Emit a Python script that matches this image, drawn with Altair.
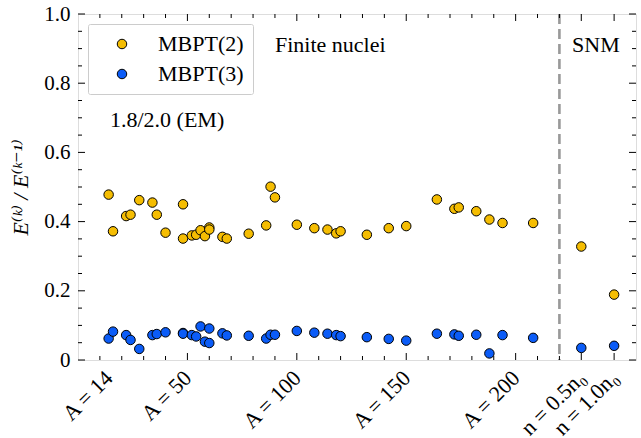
import altair as alt
import pandas as pd

# ---------------- data ----------------
A_nuclei = [14, 16, 22, 24, 28, 34, 36, 40, 48, 48, 52, 54, 56, 58, 60, 60, 66, 68, 78, 86,
            88, 90, 100, 108, 114, 118, 120, 132, 142, 150, 164, 172, 174, 182, 188, 194, 208]
mbpt2_nuclei = [0.478, 0.372, 0.416, 0.420, 0.462, 0.455, 0.420, 0.368, 0.450, 0.351, 0.360, 0.362,
                0.375, 0.358, 0.383, 0.377, 0.356, 0.351, 0.365, 0.389, 0.501, 0.470, 0.391, 0.381,
                0.377, 0.366, 0.372, 0.362, 0.381, 0.387, 0.464, 0.437, 0.441, 0.430, 0.406, 0.396,
                0.396]
mbpt3_nuclei = [0.062, 0.082, 0.072, 0.058, 0.032, 0.072, 0.075, 0.080, 0.078, 0.076, 0.072, 0.068,
                0.097, 0.053, 0.091, 0.049, 0.077, 0.071, 0.070, 0.062, 0.073, 0.073, 0.084, 0.079,
                0.076, 0.072, 0.069, 0.066, 0.061, 0.056, 0.076, 0.074, 0.070, 0.073, 0.019, 0.072,
                0.064]
snm_pos = [230, 245]
mbpt2_snm = [0.328, 0.189]
mbpt3_snm = [0.035, 0.041]

series_names = ["MBPT(2)", "MBPT(3)"]
series_colors = ["#f5bd02", "#0b5cf7"]

x_tick_values = [14, 50, 100, 150, 200, 230, 245]
x_tick_labels = ["A = 14", "A = 50", "A = 100", "A = 150", "A = 200", "n = 0.5n\u2080", "n = 1.0n\u2080"]
x_major_marks = [50, 100, 150, 200, 230, 245]
x_minor_marks = [10, 20, 30, 40, 60, 70, 80, 90, 110, 120, 130, 140, 160, 170, 180, 190, 210, 220]
y_major = [0, 0.2, 0.4, 0.6, 0.8, 1.0]
y_minor = [0.05, 0.1, 0.15, 0.25, 0.3, 0.35, 0.45, 0.5, 0.55, 0.65, 0.7, 0.75, 0.85, 0.9, 0.95]
divider_pos = [220]

annotations = ["Finite nuclei", "SNM", "1.8/2.0 (EM)"]
ann_x = [90, 236.7, 14.6]
ann_y = [0.91, 0.91, 0.694]
ann_align = ["left", "center", "left"]

# ---------------- layout ----------------
W, H = 558, 346
SERIF = "'Liberation Serif', 'Times New Roman', 'DejaVu Serif', serif"

rows = []
for a, v in zip(A_nuclei + snm_pos, mbpt2_nuclei + mbpt2_snm):
    rows.append({"x": a, "y": v, "series": series_names[0]})
for a, v in zip(A_nuclei + snm_pos, mbpt3_nuclei + mbpt3_snm):
    rows.append({"x": a, "y": v, "series": series_names[1]})
df = pd.DataFrame(rows)

label_expr = " : ".join(
    f"datum.value == {v} ? '{l}'" for v, l in zip(x_tick_values, x_tick_labels)
) + " : ''"

x_scale = alt.Scale(domain=[0, 255], nice=False, zero=False)
y_scale = alt.Scale(domain=[0, 1], nice=False)

x_axis = alt.Axis(values=x_tick_values, labelExpr=label_expr, labelAngle=315, labelAlign="right",
                  labelBaseline="middle", labelFont=SERIF, labelFontSize=22, labelColor="black",
                  ticks=False, domain=False, grid=False, title=None, labelPadding=14,
                  labelOverlap=False, labelFlush=False)
y_axis = alt.Axis(values=y_major, labelExpr="datum.value == 0 ? '0' : format(datum.value, '.1f')",
                  labelFont=SERIF, labelFontSize=21, labelColor="black", ticks=False, domain=False,
                  grid=False, title="E\u207d\u1d4f\u207e / E\u207d\u1d4f\u207b\u00b9\u207e",
                  titleFont=SERIF, titleFontSize=22, titleFontWeight="normal",
                  titleFontStyle="italic", titleColor="black",
                  labelPadding=8, titlePadding=11)

points = alt.Chart(df).mark_circle(size=90, opacity=1, stroke="black", strokeWidth=1).encode(
    x=alt.X("x:Q", scale=x_scale, axis=x_axis),
    y=alt.Y("y:Q", scale=y_scale, axis=y_axis),
    color=alt.Color("series:N", scale=alt.Scale(domain=series_names, range=series_colors),
                    legend=alt.Legend(title=None, orient="none", legendX=10, legendY=10,
                                      labelFont=SERIF, labelFontSize=22, labelColor="black",
                                      symbolType="circle", symbolSize=90,
                                      symbolStrokeColor="black", symbolStrokeWidth=1,
                                      symbolOffset=14, labelOffset=25, rowPadding=8,
                                      padding=9, fillColor="white", strokeColor="#cccccc",
                                      cornerRadius=2)),
)

divider = alt.Chart(pd.DataFrame({"x": divider_pos})).mark_rule(
    color="#999999", strokeWidth=2.6, strokeDash=[10, 5]).encode(x="x:Q")

xt_major = pd.DataFrame({"x": x_major_marks})
xt_minor = pd.DataFrame({"x": x_minor_marks})
yt_major = pd.DataFrame({"y": y_major})
yt_minor = pd.DataFrame({"y": y_minor})

def xticks(data, length):
    bottom = alt.Chart(data).mark_rule(color="black", strokeWidth=1).encode(
        x="x:Q", y=alt.value(H), y2=alt.value(H - length))
    top = alt.Chart(data).mark_rule(color="black", strokeWidth=1).encode(
        x="x:Q", y=alt.value(0), y2=alt.value(length))
    return [bottom, top]

def yticks(data, length):
    left = alt.Chart(data).mark_rule(color="black", strokeWidth=1).encode(
        y="y:Q", x=alt.value(0), x2=alt.value(length))
    right = alt.Chart(data).mark_rule(color="black", strokeWidth=1).encode(
        y="y:Q", x=alt.value(W), x2=alt.value(W - length))
    return [left, right]

ann_df = pd.DataFrame({"x": ann_x, "y": ann_y, "t": annotations, "a": ann_align})
ann_left = alt.Chart(ann_df[ann_df.a == "left"]).mark_text(
    align="left", baseline="middle", font=SERIF, fontSize=22, color="black").encode(
    x="x:Q", y="y:Q", text="t:N")
ann_center = alt.Chart(ann_df[ann_df.a == "center"]).mark_text(
    align="center", baseline="middle", font=SERIF, fontSize=22, color="black").encode(
    x="x:Q", y="y:Q", text="t:N")

layers = [divider] + xticks(xt_major, 7) + xticks(xt_minor, 4) + yticks(yt_major, 7) + \
    yticks(yt_minor, 4) + [points, ann_left, ann_center]

chart = alt.layer(*layers).properties(
    width=W, height=H,
    autosize=alt.AutoSizeParams(type="none"),
    padding={"left": 78, "top": 14, "right": 5, "bottom": 78},
).configure_view(stroke="black", strokeWidth=1.6).configure(background="white")

chart.save("out.html", embed_options={"renderer": "svg", "actions": False})
